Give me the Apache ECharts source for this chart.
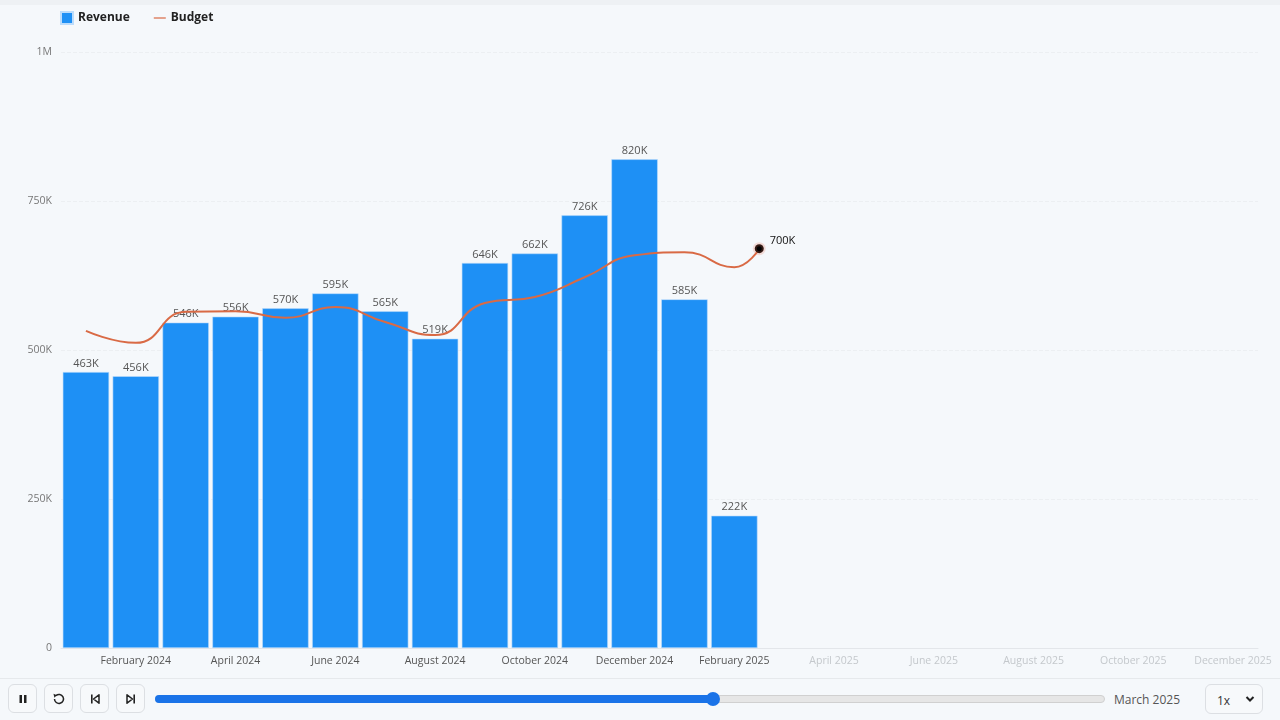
<!DOCTYPE html>
<html>
<head>
<meta charset="utf-8">
<script src="https://cdn.jsdelivr.net/npm/echarts@6/dist/echarts.min.js"></script>
<style>
  html, body { margin: 0; padding: 0; width: 1280px; height: 720px; overflow: hidden; background: #f5f8fb; font-family: "Open Sans", "Noto Sans", sans-serif; }
  #topstrip { position: absolute; left: 0; top: 0; width: 1280px; height: 5px; background: #eef1f4; }
  #chart { position: absolute; left: 0; top: 0; width: 1280px; height: 678px; }
  #sep { position: absolute; left: 0; top: 678px; width: 1280px; height: 1px; background: #e6e9ec; }
  .btn { position: absolute; top: 684px; width: 29px; height: 29px; border: 1px solid #dcdfe3; border-radius: 6px; background: #f7f9fb; box-sizing: border-box; display: flex; align-items: center; justify-content: center; }
  #track { position: absolute; left: 155px; top: 695px; width: 950px; height: 8px; border-radius: 4px; background: #e6e6e6; border: 1px solid #d0d0d0; box-sizing: border-box; }
  #fill { position: absolute; left: 155px; top: 695px; width: 558px; height: 8px; border-radius: 4px; background: #1a73e8; }
  #thumb { position: absolute; left: 706px; top: 692px; width: 14px; height: 14px; border-radius: 7px; background: #1a73e8; }
  #cur { position: absolute; left: 1114px; top: 691px; font-size: 12px; color: #555; }
  #sel { position: absolute; left: 1205px; top: 684px; width: 58px; height: 30px; border: 1px solid #dcdfe3; border-radius: 6px; box-sizing: border-box; background: #f7f9fb; font-size: 12px; color: #333; }
  #sel span { position: absolute; left: 11px; top: 7px; }
  #sel svg { position: absolute; right: 7px; top: 10px; }
</style>
</head>
<body>
<div id="topstrip"></div>
<div id="chart"></div>
<div id="sep"></div>
<div class="btn" style="left:8px"><svg width="12" height="12" viewBox="0 0 12 12"><rect x="2.5" y="2" width="2.5" height="8" fill="#222"/><rect x="7" y="2" width="2.5" height="8" fill="#222"/></svg></div>
<div class="btn" style="left:44px"><svg width="16" height="16" viewBox="0 0 16 16"><path d="M3.5 8 A4.5 4.5 0 1 0 5 4.6" fill="none" stroke="#222" stroke-width="1.5"/><path d="M2.5 2.8 L5.8 4.2 L3.4 6.8 Z" fill="#222"/></svg></div>
<div class="btn" style="left:80px"><svg width="14" height="14" viewBox="0 0 14 14"><rect x="3" y="2.5" width="1.6" height="9" fill="#222"/><path d="M11 2.8 L5.5 7 L11 11.2 Z" fill="none" stroke="#222" stroke-width="1.5" stroke-linejoin="round"/></svg></div>
<div class="btn" style="left:116px"><svg width="14" height="14" viewBox="0 0 14 14"><rect x="9.4" y="2.5" width="1.6" height="9" fill="#222"/><path d="M3 2.8 L8.5 7 L3 11.2 Z" fill="none" stroke="#222" stroke-width="1.5" stroke-linejoin="round"/></svg></div>
<div id="track"></div>
<div id="fill"></div>
<div id="thumb"></div>
<div id="cur">March 2025</div>
<div id="sel"><span>1x</span><svg width="10" height="8" viewBox="0 0 10 8"><path d="M1.5 2 L5 5.5 L8.5 2" fill="none" stroke="#222" stroke-width="2"/></svg></div>
<script>
const months = ["January 2024","February 2024","March 2024","April 2024","May 2024","June 2024","July 2024","August 2024","September 2024","October 2024","November 2024","December 2024","January 2025","February 2025","March 2025","April 2025","May 2025","June 2025","July 2025","August 2025","September 2025","October 2025","November 2025","December 2025"];
const revenue = [463000,456000,546000,556000,570000,595000,565000,519000,646000,662000,726000,820000,585000,222000];
const budget = [532000,512000,564000,565000,554000,572000,547000,525000,579000,589000,622000,659000,664000,639000];
// line head (mid-transition toward March 2025): drawn position and its label value
const budgetHeadIndex = 13.5;
const budgetHeadValue = 670000;
const budgetHeadLabel = 700000;
const yTicks = [0,250000,500000,750000,1000000];
const shownCount = revenue.length;

function fmtK(v){ if (v >= 1000000) return (v/1000000) + 'M'; if (v === 0) return '0'; return Math.round(v/1000) + 'K'; }

const budgetData = budget.map((v,i)=>[i,v]);
budgetData.push({value:[budgetHeadIndex,budgetHeadValue], symbol:'circle', symbolSize:9,
  itemStyle:{color:'#000', borderColor:'rgba(230,120,90,0.22)', borderWidth:4},
  label:{show:true, position:'right', distance:4, formatter:()=>fmtK(budgetHeadLabel), color:'#111', fontSize:11, offset:[0,-8]}});

const chart = echarts.init(document.getElementById('chart'), null, {renderer:'canvas'});
chart.setOption({
  backgroundColor: 'transparent',
  animation: false,
  textStyle: { fontFamily: '"Open Sans", "Noto Sans", sans-serif' },
  legend: {
    left: 55, top: 6, itemWidth: 12, itemHeight: 12, itemGap: 24,
    textStyle: { fontWeight: 'bold', color: '#222', fontSize: 12 },
    data: [ {name:'Revenue', icon:'rect'}, {name:'Budget', icon:'path://M0,5 L20,5 L20,7 L0,7 Z', itemStyle:{color:'#d96a45'}} ]
  },
  grid: { left: 61, right: 22, top: 52, bottom: 30 },
  xAxis: [
    { type: 'category', data: months, boundaryGap: true,
      axisLine: { lineStyle: { color: '#e3e6ea' } }, axisTick: { show: false },
      axisLabel: { interval: 0, margin: 8, fontSize: 10.5,
        formatter: (v, i) => (i % 2 === 1 ? (i < shownCount ? '{a|' + v + '}' : '{b|' + v + '}') : ''),
        rich: { a: { color: '#555', fontSize: 10.5 }, b: { color: '#c4c8cc', fontSize: 10.5 } } } },
    { type: 'value', min: -0.5, max: months.length - 0.5, show: false }
  ],
  yAxis: {
    type: 'value', min: yTicks[0], max: yTicks[yTicks.length-1], interval: yTicks[1]-yTicks[0],
    axisLabel: { formatter: fmtK, color: '#777', fontSize: 10.5, margin: 9 },
    axisLine: { show: false }, axisTick: { show: false },
    splitLine: { lineStyle: { color: '#eceff2', type: 'dashed' } }
  },
  series: [
    { name: 'Revenue', type: 'bar', xAxisIndex: 0, data: revenue, barCategoryGap: '7%',
      itemStyle: { color: '#1e90f5', borderColor: '#bcdcfb', borderWidth: 0.6 },
      label: { show: true, position: 'top', distance: 3, formatter: p => fmtK(p.value), color: '#555', fontSize: 11 } },
    { name: 'Budget', type: 'line', xAxisIndex: 1, data: budgetData, smooth: 0.5,
      showSymbol: true, symbol: 'none', lineStyle: { color: '#d96a45', width: 2 }, itemStyle: { color: '#d96a45' }, z: 5 }
  ]
});
</script>
</body>
</html>
